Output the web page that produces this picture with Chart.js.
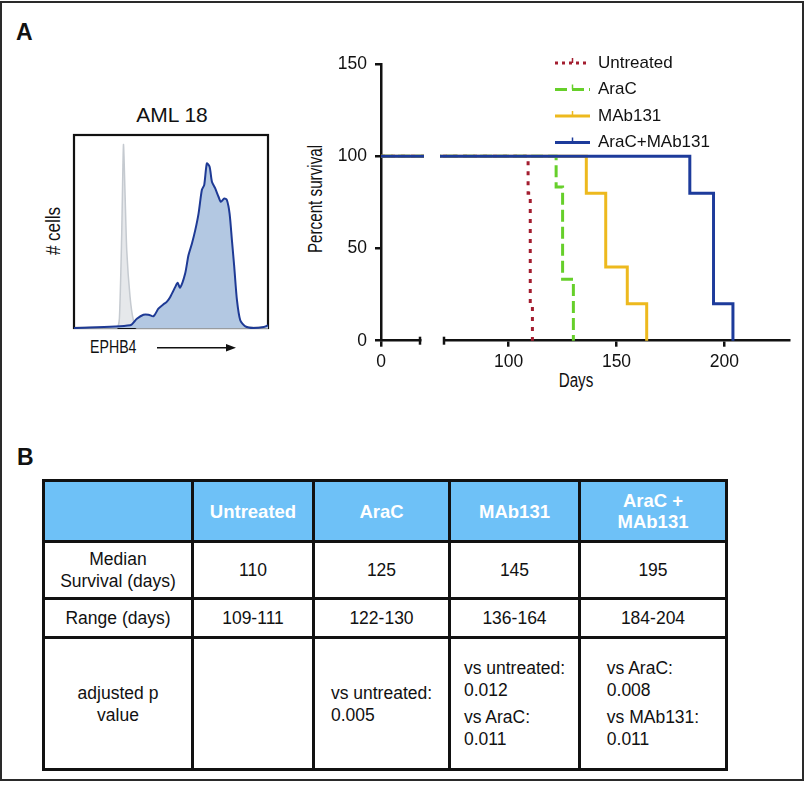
<!DOCTYPE html>
<html><head><meta charset="utf-8">
<script src="https://cdn.jsdelivr.net/npm/chart.js@4.4.1/dist/chart.umd.min.js"></script>
<style>
html,body{margin:0;padding:0;background:#fff;}
body{width:807px;height:785px;position:relative;overflow:hidden;font-family:"Liberation Sans",Arial,Helvetica,sans-serif;color:#111;}
.frame{position:absolute;left:0;top:1px;width:804px;height:780px;box-sizing:border-box;border:2.5px solid #2a2a2a;}
.lbl{position:absolute;white-space:nowrap;line-height:1;}
.panel{font-weight:bold;font-size:23px;}
.cond{font-family:"Liberation Sans",Arial,sans-serif;}
canvas{position:absolute;}
table{position:absolute;left:42px;top:479px;border-collapse:collapse;table-layout:fixed;font-size:17.5px;color:#111;}
td,th{border:3px solid #111;text-align:center;vertical-align:middle;padding:0;line-height:22px;white-space:pre-line;}
th{background:#6EC1F7;color:#fff;font-weight:bold;font-size:18.5px;line-height:21px;}
.blk{display:inline-block;text-align:left;white-space:normal;}
.pair{display:block;margin:5px 0;}
</style></head>
<body>
<div class="frame"></div>
<div class="lbl panel" style="left:16px;top:21px;">A</div>
<div class="lbl panel" style="left:17px;top:446px;">B</div>

<div class="lbl" style="left:172px;top:104px;font-size:21px;transform:translateX(-50%);">AML 18</div>
<div class="lbl cond" style="left:53px;top:231px;font-size:20.5px;transform:translate(-50%,-50%) rotate(-90deg) scaleX(0.83);"># cells</div>
<div class="lbl cond" style="left:90px;top:339px;font-size:17.5px;transform-origin:0 0;transform:scaleX(0.81);">EPHB4</div>
<svg style="position:absolute;left:0;top:0;" width="807" height="785">
  <line x1="157" y1="347.7" x2="229" y2="347.7" stroke="#111" stroke-width="1.6"/>
  <polygon points="236,347.7 226,344 226,351.4" fill="#111"/>
</svg>
<canvas id="hist" width="202" height="201" style="left:70px;top:131px;"></canvas>

<div class="lbl cond" style="left:315px;top:199px;font-size:20px;transform:translate(-50%,-50%) rotate(-90deg) scaleX(0.76);">Percent survival</div>
<div class="lbl cond" style="left:576px;top:370px;font-size:20px;transform:translateX(-50%) scaleX(0.76);">Days</div>
<canvas id="surv" width="520" height="340" style="left:280px;top:40px;"></canvas>

<table id="tbl"></table>

<script>
// ---------- survival data (Kaplan-Meier steps) ----------
const groups = ['Untreated', 'AraC', 'MAb131', 'AraC+MAb131'];
const untreatedDays = [0, 109, 110, 111];
const untreatedSurvival = [100, 80, 20, 0];
const aracDays = [0, 122, 125, 130];
const aracSurvival = [100, 83.3, 33.3, 0];
const mab131Days = [0, 136, 145, 155, 164];
const mab131Survival = [100, 80, 40, 20, 0];
const comboDays = [0, 184, 195, 204];
const comboSurvival = [100, 80, 20, 0];
const yTicks = [0, 50, 100, 150];
const xTicksEarly = [0];
const xTicksLate = [100, 150, 200];

// ---------- flow histogram (AML 18, EPHB4) ----------
const ephb4Fluor = [0, 28.9, 32.4, 35.8, 38.4, 41.0, 43.5, 46.1, 47.8, 49.6, 52.2, 53.4, 54.7, 57.3, 59.0, 60.8, 62.5, 64.2, 65.9, 67.1, 68.5, 69.9, 71.1, 72.8, 74.5, 75.7, 77.5, 78.8, 80.2, 81.4, 82.6, 84.0, 85.7, 88.3, 92.6, 97.8, 100];
const ephb4Cells = [0, 1.4, 4.8, 6.9, 6.9, 6.1, 10.0, 12.3, 13.5, 16.1, 21.3, 23.4, 20.9, 28.2, 37.7, 43.8, 50.7, 59.3, 71.5, 74.0, 85.3, 83.6, 75.8, 72.3, 68.0, 65.4, 67.1, 66.3, 59.3, 45.5, 31.7, 14.4, 4.0, 0.9, 0, 0.5, 1.4];
const isotypeFluor = [0, 22.0, 23.4, 24.6, 25.5, 26.3, 27.2, 28.9, 30.6, 32.4, 100];
const isotypeCells = [0, 0, 5, 49, 95, 70, 40, 16, 4, 0, 0];

// ---------- table ----------
const tableGroups = ['Untreated', 'AraC', 'MAb131', 'AraC +\nMAb131'];
const rowLabels = ['Median\nSurvival (days)', 'Range (days)', 'adjusted p\nvalue'];
const medianDays = ['110', '125', '145', '195'];
const rangeDays = ['109-111', '122-130', '136-164', '184-204'];
const pComparisons = [[], [['vs untreated:', '0.005']], [['vs untreated:', '0.012'], ['vs AraC:', '0.011']], [['vs AraC:', '0.008'], ['vs MAb131:', '0.011']]];

// ---------- styles ----------
const seriesColors = ['#A31D2F', '#66CF2A', '#EDB91E', '#1D3B9B'];
const seriesDash = [[4, 6], [12, 5], [], []];
const drawOrder = [3, 2, 1, 0];
const seriesData = [[untreatedDays, untreatedSurvival], [aracDays, aracSurvival], [mab131Days, mab131Survival], [comboDays, comboSurvival]];
const fontMain = '"Liberation Sans", Arial, sans-serif';

function kmPoints(days, surv) { return days.map((d, i) => ({x: d, y: surv[i]})); }

const datasets = [];
['x2', 'x1'].forEach(axis => {
  groups.forEach((g, i) => {
    datasets.push({
      label: g,
      data: kmPoints(seriesData[i][0], seriesData[i][1]),
      xAxisID: axis, yAxisID: 'y',
      borderColor: seriesColors[i], backgroundColor: seriesColors[i],
      borderDash: seriesDash[i], borderWidth: 3, borderCapStyle: 'butt',
      stepped: true, pointRadius: 0, fill: false, order: drawOrder[i],
      clip: {left: 4, right: 4, top: 8, bottom: 8},
      inLegend: axis === 'x2'
    });
  });
});

const gridOpts = {display: true, drawOnChartArea: false, drawTicks: true, tickLength: 6, color: '#111', lineWidth: 2.5};
const borderOpts = {display: true, color: '#111', width: 2.5};
const tickFont = {family: fontMain, size: 17.5};

const survExtras = {
  id: 'survExtras',
  afterDraw(chart) {
    const ctx = chart.ctx, ca = chart.chartArea;
    const x1 = chart.scales.x1, x2 = chart.scales.x2, y = chart.scales.y;
    const yb = y.getPixelForValue(0);
    ctx.save();
    ctx.strokeStyle = '#111'; ctx.lineWidth = 2.5; ctx.setLineDash([]);
    [x1.right, x2.left].forEach(px => { ctx.beginPath(); ctx.moveTo(px, yb - 4); ctx.lineTo(px, yb + 4); ctx.stroke(); });
    // legend
    const items = chart.data.datasets.filter(d => d.inLegend);
    const lx = ca.left + 174, len = 35;
    items.forEach((d, i) => {
      const cy = ca.top - 1 + i * 26.5;
      ctx.strokeStyle = d.borderColor; ctx.lineWidth = 3; ctx.lineCap = 'butt';
      ctx.setLineDash(d.borderDash.length ? [3, 4] : []);
      if (i === 1) ctx.setLineDash([12, 5]);
      ctx.beginPath(); ctx.moveTo(lx, cy); ctx.lineTo(lx + len, cy); ctx.stroke();
      ctx.setLineDash([]); ctx.lineWidth = 1.5;
      ctx.beginPath(); ctx.moveTo(lx + len / 2, cy - 5); ctx.lineTo(lx + len / 2, cy); ctx.stroke();
      ctx.fillStyle = '#111'; ctx.font = '17px ' + fontMain; ctx.textBaseline = 'middle'; ctx.textAlign = 'left';
      ctx.fillText(d.label, lx + 43, cy);
    });
    ctx.restore();
  }
};

new Chart(document.getElementById('surv'), {
  type: 'line',
  data: {datasets},
  options: {
    responsive: false, animation: false, devicePixelRatio: 1,
    layout: {padding: {top: 24, right: 11, left: 0, bottom: 0}},
    plugins: {legend: {display: false}, tooltip: {enabled: false}},
    scales: {
      y: {type: 'linear', position: 'left', min: 0, max: 150,
        afterBuildTicks: s => { s.ticks = yTicks.map(v => ({value: v})); },
        afterFit: s => { s.width = 101; },
        ticks: {font: tickFont, color: '#111', padding: 8},
        grid: gridOpts, border: borderOpts},
      x1: {type: 'linear', position: 'bottom', stack: 'days', stackWeight: 39, min: 0, max: 20,
        afterBuildTicks: s => { s.ticks = xTicksEarly.map(v => ({value: v})); },
        afterFit: s => { s.height = 39.3; },
        ticks: {font: tickFont, color: '#111', padding: 5, maxRotation: 0},
        grid: gridOpts, border: borderOpts},
      xg: {type: 'linear', position: 'bottom', stack: 'days', stackWeight: 24, min: 0, max: 1,
        afterFit: s => { s.height = 39.3; },
        ticks: {display: false}, grid: {display: false}, border: {display: false}},
      x2: {type: 'linear', position: 'bottom', stack: 'days', stackWeight: 345, min: 70, max: 230,
        afterBuildTicks: s => { s.ticks = xTicksLate.map(v => ({value: v})); },
        afterFit: s => { s.height = 39.3; },
        ticks: {font: tickFont, color: '#111', padding: 5, maxRotation: 0},
        grid: gridOpts, border: borderOpts}
    }
  },
  plugins: [survExtras]
});

// ---------- histogram ----------
const histBox = {
  id: 'histBox',
  beforeDatasetsDraw(chart) {
    const ctx = chart.ctx, ca = chart.chartArea;
    ctx.save(); ctx.strokeStyle = '#111'; ctx.lineWidth = 2.2;
    ctx.strokeRect(ca.left, ca.top, ca.right - ca.left, ca.bottom - ca.top);
    ctx.restore();
  }
};
new Chart(document.getElementById('hist'), {
  type: 'line',
  data: {datasets: [
    {label: 'EPHB4', data: ephb4Fluor.map((x, i) => ({x, y: ephb4Cells[i]})), borderColor: '#1E3A95', backgroundColor: '#B3C8E2',
     borderWidth: 2, fill: 'origin', tension: 0.25, pointRadius: 0, order: 0, clip: 3},
    {label: 'Isotype', data: isotypeFluor.map((x, i) => ({x, y: isotypeCells[i]})), borderColor: '#C5CAD0', backgroundColor: '#E6E8EB',
     borderWidth: 1.5, fill: 'origin', tension: 0.2, pointRadius: 0, order: 1, clip: 3}
  ]},
  options: {
    responsive: false, animation: false, devicePixelRatio: 1,
    layout: {padding: 4},
    plugins: {legend: {display: false}, tooltip: {enabled: false}},
    scales: {
      x: {type: 'linear', min: 0, max: 100, display: false},
      y: {type: 'linear', min: 0, max: 100, display: false}
    }
  },
  plugins: [histBox]
});

// ---------- table ----------
(function () {
  const tbl = document.getElementById('tbl');
  const colW = [149, 121, 136, 130, 147];
  const cg = document.createElement('colgroup');
  colW.forEach(w => { const c = document.createElement('col'); c.style.width = w + 'px'; cg.appendChild(c); });
  tbl.appendChild(cg);
  const rowH = [61, 57, 39, 132];
  const head = document.createElement('tr'); head.style.height = rowH[0] + 'px';
  const th0 = document.createElement('th'); head.appendChild(th0);
  tableGroups.forEach(g => { const th = document.createElement('th'); th.textContent = g; head.appendChild(th); });
  tbl.appendChild(head);
  const rows = [medianDays, rangeDays];
  rows.forEach((vals, r) => {
    const tr = document.createElement('tr'); tr.style.height = rowH[r + 1] + 'px';
    const td0 = document.createElement('td'); td0.textContent = rowLabels[r]; tr.appendChild(td0);
    vals.forEach(v => { const td = document.createElement('td'); td.textContent = v; tr.appendChild(td); });
    tbl.appendChild(tr);
  });
  const tr = document.createElement('tr'); tr.style.height = rowH[3] + 'px';
  const td0 = document.createElement('td'); td0.textContent = rowLabels[2]; tr.appendChild(td0);
  pComparisons.forEach(list => {
    const td = document.createElement('td');
    if (list.length) {
      const blk = document.createElement('div'); blk.className = 'blk';
      list.forEach(pair => {
        const p = document.createElement('div'); p.className = 'pair';
        p.innerHTML = pair[0] + '<br>' + pair[1];
        blk.appendChild(p);
      });
      td.appendChild(blk);
    }
    tr.appendChild(td);
  });
  tbl.appendChild(tr);
})();
</script>
</body></html>
